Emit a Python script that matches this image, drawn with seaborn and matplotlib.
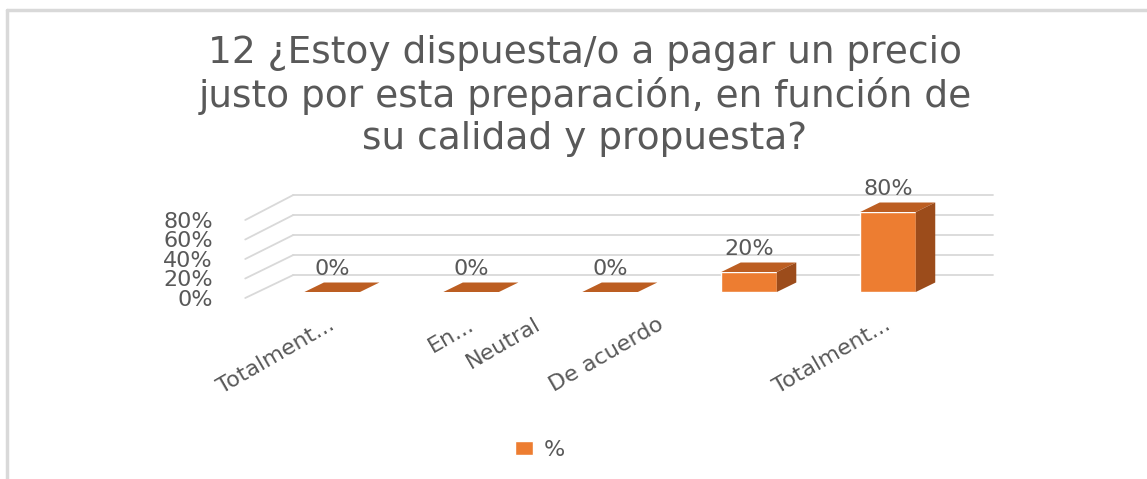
import numpy as np
import pandas as pd
import matplotlib
matplotlib.use("Agg")
import matplotlib.pyplot as plt
import matplotlib.transforms as mtransforms
from matplotlib.patches import Polygon
from matplotlib.lines import Line2D
import seaborn as sns

# data
categories = ["Totalment...", "En...", "Neutral", "De acuerdo", "Totalment..."]
values = [0, 0, 0, 20, 80]
value_labels = ["0%", "0%", "0%", "20%", "80%"]
y_ticks = [0, 20, 40, 60, 80]
y_tick_labels = ["0%", "20%", "40%", "60%", "80%"]
series_name = "%"
title = "12 ¿Estoy dispuesta/o a pagar un precio\njusto por esta preparación, en función de\nsu calidad y propuesta?"

# excel places the un-truncated labels further left
label_nudge_px = [-4, -4, -76, -92, -4]

front_col = "#ED7D31"
top_col = "#BC5E22"
side_col = "#9C4C1B"
grid_col = "#D9D9D9"
text_col = "#595959"

sns.set_theme(style="white")
plt.rcParams["font.family"] = ["DejaVu Sans"]

df = pd.DataFrame({"cat": range(len(values)), "val": values})

W, H = 1147, 479
fig = plt.figure(figsize=(W / 100, H / 100), dpi=100)
# axes box in pixels: x 228..1020, y 177..302
ax = fig.add_axes([228 / W, (H - 302) / H, 792 / W, 125 / H])

sns.barplot(data=df, x="cat", y="val", color=front_col, width=0.4,
            saturation=1, ax=ax, zorder=3, label=series_name, native_scale=True)

ax.set_xlim(-0.75, 4.95)
ax.set_ylim(-10, 115)

# 3d look: back wall and floor offsets (data units)
wall_x0, wall_x1 = -0.28, 4.755
wall_dy = 17
front_x = -0.626
depth_dx, depth_dy = 0.14, 9.5

for v in y_ticks:
    ax.plot([wall_x0, wall_x1], [wall_dy + v, wall_dy + v], color=grid_col, lw=1.3, zorder=1, clip_on=False)
    ax.plot([front_x, wall_x0], [-6 + 0.975 * v, wall_dy + v], color=grid_col, lw=1.3, zorder=1, clip_on=False)

for p, v in zip(ax.patches, values):
    x0 = p.get_x()
    x1 = x0 + p.get_width()
    h = p.get_height()
    top = Polygon([(x0, h), (x1, h), (x1 + depth_dx, h + depth_dy), (x0 + depth_dx, h + depth_dy)],
                  closed=True, facecolor=top_col, edgecolor="none", zorder=3, clip_on=False)
    ax.add_patch(top)
    if h > 0:
        side = Polygon([(x1, 0), (x1 + depth_dx, depth_dy), (x1 + depth_dx, h + depth_dy), (x1, h)],
                       closed=True, facecolor=side_col, edgecolor="none", zorder=3, clip_on=False)
        ax.add_patch(side)

for i, (v, lab) in enumerate(zip(values, value_labels)):
    ax.text(i, v + 23, lab, ha="center", va="center", fontsize=16, color=text_col, zorder=5)

# y ticks sit on the front edge
ax.set_yticks([-6 + 0.975 * v for v in y_ticks])
ax.set_yticklabels(y_tick_labels, fontsize=16, color=text_col)
ax.tick_params(axis="y", length=0, pad=11)

ax.set_xticks(range(len(categories)))
ax.set_xticklabels(categories, rotation=30, ha="right", va="top",
                   rotation_mode="anchor", fontsize=16, color=text_col)
ax.tick_params(axis="x", length=0, pad=9)
for lbl, dx in zip(ax.get_xticklabels(), label_nudge_px):
    lbl.set_transform(lbl.get_transform() + mtransforms.ScaledTranslation(dx / 100, 0, fig.dpi_scale_trans))

ax.set_xlabel("")
ax.set_ylabel("")
for s in ax.spines.values():
    s.set_visible(False)
ax.patch.set_alpha(0)

fig.text(585 / W, 1 - 96 / H, title, ha="center", va="center", fontsize=27,
         color=text_col, linespacing=1.22)

leg = ax.legend(loc="center", bbox_to_anchor=(540 / W, 1 - 450 / H), bbox_transform=fig.transFigure,
                frameon=False, fontsize=16, handlelength=0.8, handleheight=0.6, handletextpad=0.5)
for t in leg.get_texts():
    t.set_color(text_col)

# chart area border (left and top only visible)
fig.add_artist(Line2D([7 / W, 7 / W], [0, 1 - 10 / H], transform=fig.transFigure, color=grid_col, lw=2.5))
fig.add_artist(Line2D([7 / W, 1], [1 - 10 / H, 1 - 10 / H], transform=fig.transFigure, color=grid_col, lw=2.5))

fig.savefig("out.png", dpi=100)
